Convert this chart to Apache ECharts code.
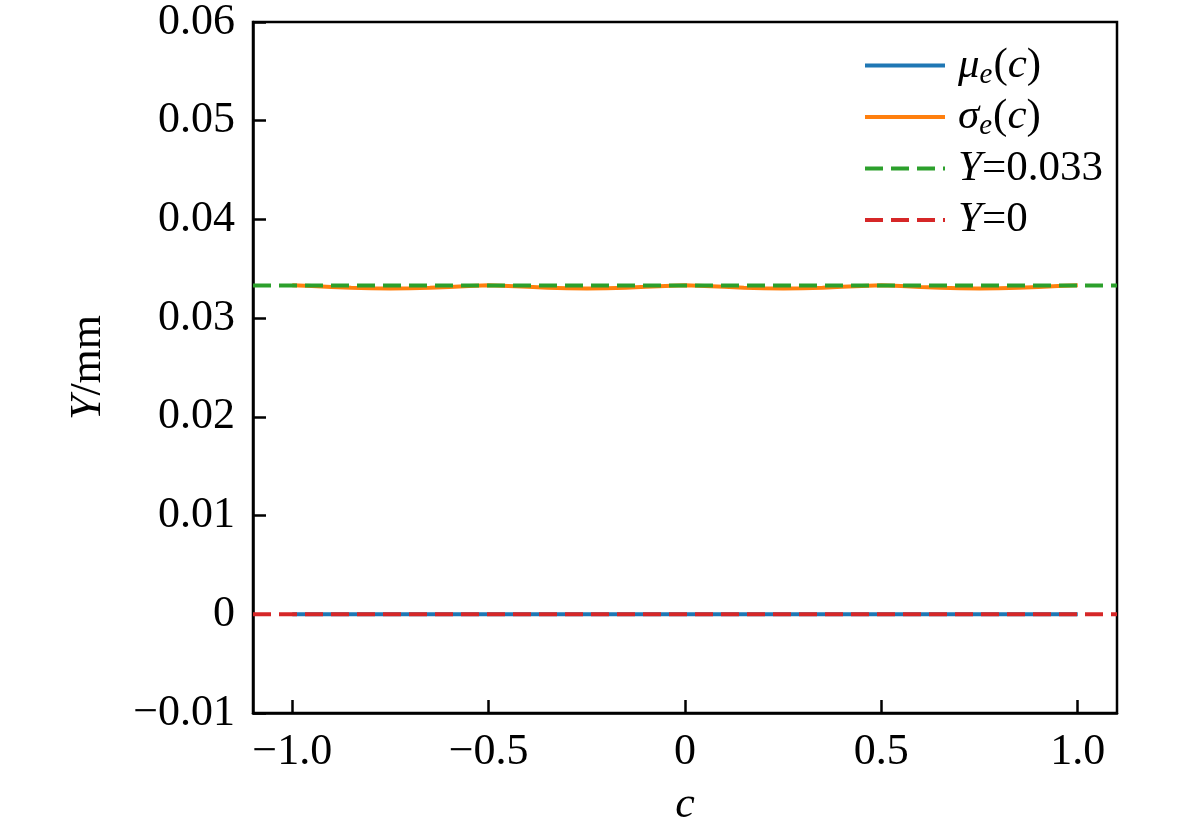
<!DOCTYPE html>
<html>
<head>
<meta charset="utf-8">
<script src="https://cdn.jsdelivr.net/npm/echarts@6/dist/echarts.min.js"></script>
<style>html,body{margin:0;padding:0;background:#fff}#c{width:1181px;height:832px}</style>
</head>
<body>
<div id="c"></div>
<script>
// ---- data ----
var cValues = [-1.00,-0.95,-0.90,-0.85,-0.80,-0.75,-0.70,-0.65,-0.60,-0.55,-0.50,-0.45,-0.40,-0.35,-0.30,-0.25,-0.20,-0.15,-0.10,-0.05,0.00,0.05,0.10,0.15,0.20,0.25,0.30,0.35,0.40,0.45,0.50,0.55,0.60,0.65,0.70,0.75,0.80,0.85,0.90,0.95,1.00];
var muValues = [0,0,0,0,0,0,0,0,0,0,0,0,0,0,0,0,0,0,0,0,0,0,0,0,0,0,0,0,0,0,0,0,0,0,0,0,0,0,0,0,0];
var sigmaValues = [0.03333,0.03325,0.03315,0.03308,0.03303,0.03301,0.03303,0.03308,0.03316,0.03325,0.03332,0.03326,0.03317,0.03309,0.03303,0.03301,0.03303,0.03309,0.03317,0.03326,0.03333,0.03326,0.03317,0.03309,0.03303,0.03301,0.03303,0.03309,0.03317,0.03326,0.03332,0.03325,0.03316,0.03308,0.03303,0.03301,0.03303,0.03308,0.03315,0.03325,0.03333];
var refX = [-1.1, 1.1];
var greenY = [0.0333, 0.0333];
var redY = [0, 0];
var xTicks = [-1.0, -0.5, 0, 0.5, 1.0];
var seriesNames = ['mu', 'sigma', 'Y0033', 'Y0'];

function pairs(xs, ys) { return xs.map(function (x, i) { return [x, ys[i]]; }); }

var FONT = "'Liberation Serif','Times New Roman',serif";
var chart = echarts.init(document.getElementById('c'), null, {renderer: 'canvas'});

var LFS = 43;
var legendRich = {
  i: {fontFamily: FONT, fontSize: LFS, fontStyle: 'italic', color: '#000', lineHeight: 48},
  n: {fontFamily: FONT, fontSize: LFS, color: '#000', lineHeight: 48},
  sub: {fontFamily: FONT, fontSize: 29, fontStyle: 'italic', color: '#000', lineHeight: 30, verticalAlign: 'bottom', padding: [0, 1, 0, 0]}
};

var option = {
  animation: false,
  backgroundColor: '#fff',
  grid: {left: 253, right: 64, top: 20, bottom: 114, show: true, borderColor: '#000', borderWidth: 2.5, backgroundColor: 'transparent'},
  legend: {
    orient: 'vertical',
    left: 858,
    top: 39,
    itemWidth: 80,
    itemHeight: 14,
    itemGap: 6,
    data: seriesNames,
    itemStyle: {opacity: 0, borderWidth: 0},
    lineStyle: {width: 4},
    formatter: function (name) {
      if (name === 'mu') return '{i|μ}{sub|e}{n|(}{i|c}{n|)}';
      if (name === 'sigma') return '{i|σ}{sub|e}{n|(}{i|c}{n|)}';
      if (name === 'Y0033') return '{i|Y}{n|=0.033}{sub| }';
      return '{i|Y}{n|=0}{sub| }';
    },
    textStyle: {rich: legendRich, padding: [0, 0, 0, 8], height: 48}
  },
  xAxis: {
    type: 'value',
    min: -1.1,
    max: 1.1,
    name: 'c',
    nameLocation: 'middle',
    nameGap: 70,
    nameTextStyle: {fontFamily: FONT, fontSize: 44, fontStyle: 'italic', color: '#000'},
    axisLine: {onZero: false, lineStyle: {color: '#000', width: 2.5}},
    axisTick: {inside: true, length: 13, lineStyle: {color: '#000', width: 2.5}, customValues: xTicks},
    axisLabel: {
      customValues: xTicks,
      margin: 17,
      fontFamily: FONT, fontSize: 44, color: '#000',
      formatter: function (v) { return v === 0 ? '0' : v.toFixed(1).replace('-', '\u2212'); }
    },
    splitLine: {show: false}
  },
  yAxis: {
    type: 'value',
    min: -0.01,
    max: 0.06,
    interval: 0.01,
    name: '{i|Y}{n|/mm}',
    nameLocation: 'middle',
    nameGap: 143,
    nameRotate: 90,
    nameTextStyle: {
      fontFamily: FONT, fontSize: 44, color: '#000',
      rich: {
        i: {fontFamily: FONT, fontSize: 44, fontStyle: 'italic', color: '#000'},
        n: {fontFamily: FONT, fontSize: 44, color: '#000'}
      }
    },
    axisLine: {onZero: false, lineStyle: {color: '#000', width: 2.5}},
    axisTick: {inside: true, length: 13, lineStyle: {color: '#000', width: 2.5}},
    axisLabel: {
      margin: 18,
      fontFamily: FONT, fontSize: 44, color: '#000',
      formatter: function (v) {
        if (Math.abs(v) < 1e-9) return '0';
        return v.toFixed(2).replace('-', '\u2212');
      }
    },
    splitLine: {show: false}
  },
  series: [
    {name: 'mu', type: 'line', data: pairs(cValues, muValues), showSymbol: false, symbol: 'none',
     lineStyle: {color: '#1f77b4', width: 4}, itemStyle: {color: '#1f77b4'}, z: 2},
    {name: 'sigma', type: 'line', data: pairs(cValues, sigmaValues), showSymbol: false, symbol: 'none', smooth: false,
     lineStyle: {color: '#ff7f0e', width: 4}, itemStyle: {color: '#ff7f0e'}, z: 2},
    {name: 'Y0033', type: 'line', data: pairs(refX, greenY), showSymbol: false, symbol: 'none',
     lineStyle: {color: '#2ca02c', width: 4, type: [18, 8]}, itemStyle: {color: '#2ca02c'}, z: 3},
    {name: 'Y0', type: 'line', data: pairs(refX, redY), showSymbol: false, symbol: 'none',
     lineStyle: {color: '#d62728', width: 4, type: [18, 8]}, itemStyle: {color: '#d62728'}, z: 3}
  ]
};
chart.setOption(option);
</script>
</body>
</html>
